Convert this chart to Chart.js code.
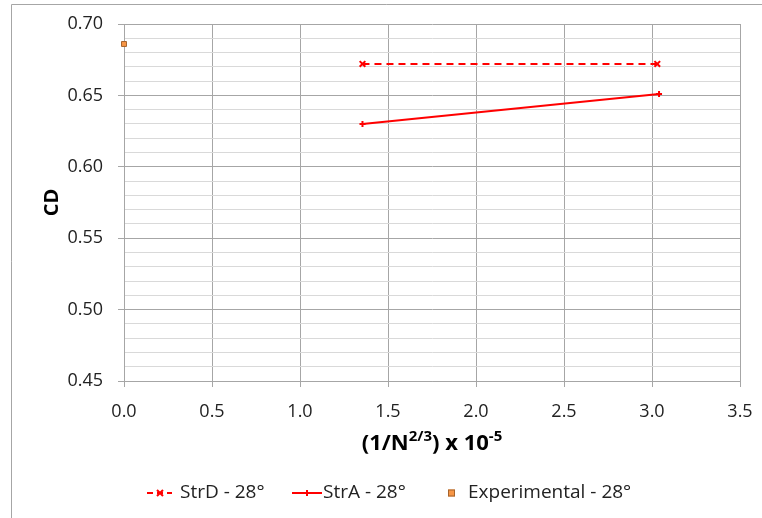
<!DOCTYPE html>
<html>
<head>
<meta charset="utf-8">
<script src="https://cdn.jsdelivr.net/npm/chart.js@4.4.1/dist/chart.umd.min.js"></script>
<style>
  html, body { margin: 0; padding: 0; background: #fff; }
  #wrap { width: 762px; height: 518px; }
</style>
</head>
<body>
<div id="wrap"><canvas id="cdChart" width="762" height="518"></canvas></div>
<script>
// grid refinement parameter (1/N^(2/3)) x 10^-5
const strDX = [1.355, 3.03];
const strDY = [0.672, 0.672];
const strAX = [1.355, 3.04];
const strAY = [0.630, 0.651];
const expX = [0.0];
const expY = [0.686];

const legendLabels = ['StrD - 28°', 'StrA - 28°', 'Experimental - 28°'];
const xTitle = ['(1/N', '2/3', ') x 10', '-5'];

const FONT = "'Open Sans', 'Liberation Sans', sans-serif";
const RED = '#ff0000';

const toPoints = (xs, ys) => xs.map((x, i) => ({ x: x, y: ys[i] }));

// thin frame around the chart object
const framePlugin = {
  id: 'frame',
  beforeDraw(chart) {
    const ctx = chart.ctx;
    ctx.save();
    ctx.fillStyle = '#fff';
    ctx.fillRect(0, 0, chart.width, chart.height);
    ctx.strokeStyle = '#a6a6a6';
    ctx.lineWidth = 1;
    ctx.beginPath();
    ctx.moveTo(11.5, chart.height);
    ctx.lineTo(11.5, 4.5);
    ctx.lineTo(chart.width, 4.5);
    ctx.stroke();
    ctx.restore();
  }
};

// x axis title with superscripts
const xTitlePlugin = {
  id: 'xTitle',
  afterDraw(chart) {
    const ctx = chart.ctx;
    const area = chart.chartArea;
    const big = 'bold 22px ' + FONT;
    const small = 'bold 15px ' + FONT;
    ctx.save();
    ctx.fillStyle = '#000';
    ctx.textBaseline = 'alphabetic';
    const parts = xTitle.map((t, i) => ({ t: t, sup: i % 2 === 1 }));
    let total = 0;
    parts.forEach(p => {
      ctx.font = p.sup ? small : big;
      p.w = ctx.measureText(p.t).width;
      total += p.w;
    });
    let x = (area.left + area.right) / 2 - total / 2;
    const base = 450;
    parts.forEach(p => {
      ctx.font = p.sup ? small : big;
      ctx.fillText(p.t, x, p.sup ? base - 9 : base);
      x += p.w;
    });
    ctx.restore();
  }
};

// legend with line samples below the plot
const legendPlugin = {
  id: 'lineLegend',
  afterDraw(chart) {
    const ctx = chart.ctx;
    const y = 493;
    ctx.save();
    ctx.font = '19px ' + FONT;
    ctx.fillStyle = '#222';
    ctx.textBaseline = 'middle';

    // StrD: dashed line with x marker
    ctx.strokeStyle = RED;
    ctx.lineWidth = 2;
    ctx.setLineDash([6, 4]);
    ctx.beginPath();
    ctx.moveTo(147, y); ctx.lineTo(172, y);
    ctx.stroke();
    ctx.setLineDash([]);
    ctx.beginPath();
    ctx.moveTo(157, y - 3); ctx.lineTo(163, y + 3);
    ctx.moveTo(163, y - 3); ctx.lineTo(157, y + 3);
    ctx.stroke();
    ctx.fillText(legendLabels[0], 180, y);

    // StrA: solid line with dash marker
    ctx.beginPath();
    ctx.moveTo(292, y); ctx.lineTo(322, y);
    ctx.stroke();
    ctx.beginPath();
    ctx.moveTo(307, y - 3); ctx.lineTo(307, y + 3);
    ctx.stroke();
    ctx.fillText(legendLabels[1], 323, y);

    // Experimental: square marker
    ctx.fillStyle = '#f79646';
    ctx.fillRect(448, y - 3.5, 7, 7);
    ctx.strokeStyle = '#a5642c';
    ctx.lineWidth = 1;
    ctx.strokeRect(448.5, y - 3, 6, 6);
    ctx.fillStyle = '#222';
    ctx.fillText(legendLabels[2], 468, y);
    ctx.restore();
  }
};

const ctx = document.getElementById('cdChart').getContext('2d');
const cdChart = new Chart(ctx, {
  type: 'scatter',
  data: {
    datasets: [
      {
        label: legendLabels[0],
        data: toPoints(strDX, strDY),
        showLine: true,
        clip: false,
        borderColor: RED,
        backgroundColor: RED,
        borderWidth: 2,
        borderDash: [7, 5],
        pointStyle: 'crossRot',
        pointRadius: 4,
        pointBorderWidth: 2
      },
      {
        label: legendLabels[1],
        data: toPoints(strAX, strAY),
        showLine: true,
        clip: false,
        borderColor: RED,
        backgroundColor: RED,
        borderWidth: 2,
        pointStyle: 'cross',
        pointRadius: 3,
        pointBorderWidth: 2
      },
      {
        label: legendLabels[2],
        data: toPoints(expX, expY),
        showLine: false,
        clip: false,
        backgroundColor: '#f79646',
        borderColor: '#a5642c',
        borderWidth: 1,
        pointStyle: 'rect',
        pointRadius: 3.5
      }
    ]
  },
  options: {
    responsive: false,
    animation: false,
    layout: { padding: { left: 0, right: 22, top: 24, bottom: 0 } },
    scales: {
      x: {
        type: 'linear',
        min: 0,
        max: 3.5,
        afterFit(scale) {
          scale.height = 137;
          scale.paddingLeft = 0;
          scale.paddingRight = 0;
        },
        ticks: {
          stepSize: 0.5,
          padding: 14,
          color: '#222',
          font: { family: FONT, size: 18 },
          callback: v => v.toFixed(1)
        },
        grid: {
          color: '#a6a6a6',
          tickColor: '#a6a6a6',
          tickLength: 6
        },
        border: { color: '#a6a6a6' }
      },
      y: {
        type: 'linear',
        min: 0.45,
        max: 0.70,
        afterFit(scale) {
          scale.width = 124;
          scale.paddingTop = 0;
          scale.paddingBottom = 0;
        },
        ticks: {
          stepSize: 0.01,
          autoSkip: false,
          padding: 15,
          color: '#222',
          font: { family: FONT, size: 18 },
          callback: v => (Math.round(v * 100) % 5 === 0 ? v.toFixed(2) : '')
        },
        grid: {
          color: c => (Math.round(c.tick.value * 100) % 5 === 0 ? '#a6a6a6' : '#d9d9d9'),
          tickColor: c => (Math.round(c.tick.value * 100) % 5 === 0 ? '#a6a6a6' : 'rgba(0,0,0,0)'),
          tickLength: 6
        },
        border: { color: '#a6a6a6' },
        title: {
          display: true,
          text: 'CD',
          color: '#000',
          font: { family: FONT, size: 20, weight: 'bold' },
          padding: { top: 40, bottom: 0 }
        }
      }
    },
    plugins: {
      legend: { display: false },
      tooltip: { enabled: false }
    }
  },
  plugins: [framePlugin, xTitlePlugin, legendPlugin]
});
</script>
</body>
</html>
